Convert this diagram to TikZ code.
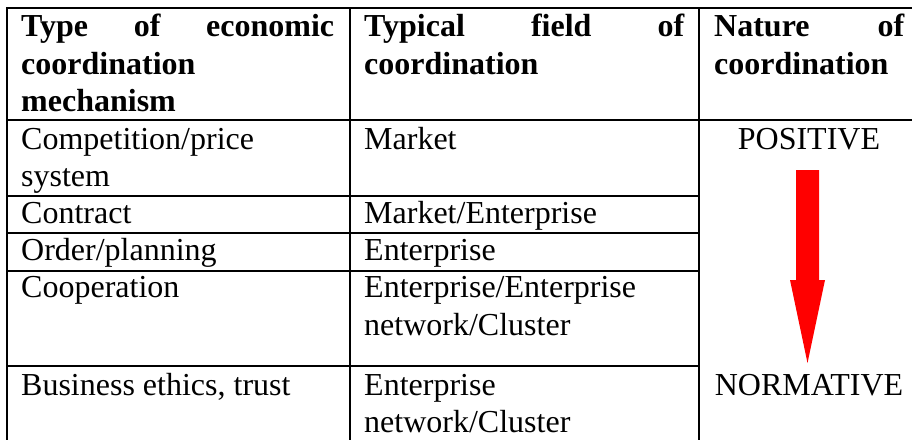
\documentclass[tikz,border=0pt]{standalone}
\usepackage{fontspec}
\setmainfont{Liberation Serif}
\tikzset{
  grid/.style={line width=2pt, line cap=rect, black},
  txt/.style={anchor=base west, inner sep=0pt, font=\fontsize{32}{37.5}\selectfont},
  hd/.style={anchor=base west, inner sep=0pt, font=\fontsize{32}{37.5}\selectfont\bfseries},
  ctr/.style={anchor=base, inner sep=0pt, font=\fontsize{32}{37.5}\selectfont},
  blockarrow/.style={fill=red, draw=none}
}
\begin{document}
\begin{tikzpicture}[x=1pt, y=-1pt]
\useasboundingbox (0,0) rectangle (912,439);
% grid lines
\draw[grid] (7,7.5) -- (912,7.5);
\draw[grid] (7,7.5) -- (7,439);
\draw[grid] (349.5,7.5) -- (349.5,439);
\draw[grid] (699,7.5) -- (699,439);
\draw[grid] (7,120) -- (912,120);
\draw[grid] (7,196) -- (699,196);
\draw[grid] (7,233) -- (699,233);
\draw[grid] (7,271) -- (699,271);
\draw[grid] (7,366) -- (699,366);
% header
\node[hd] (h1a) at (21,36.5) {\hbox to 313pt{Type\hfill of\hfill economic}};
\node[hd] (h1b) at (21,74) {coordination};
\node[hd] (h1c) at (21,111.5) {mechanism};
\node[hd] (h2a) at (364,36.5) {\hbox to 320pt{Typical\hfill field\hfill of}};
\node[hd] (h2b) at (364,74) {coordination};
\node[hd] (h3a) at (714,36.5) {\hbox to 190pt{Nature\hfill of}};
\node[hd] (h3b) at (714,74) {coordination};
% body
\node[txt] (r1a) at (21,149) {Competition/price};
\node[txt] (r1b) at (21,186.5) {system};
\node[txt] (r1c) at (364,149) {Market};
\node[ctr] (pos) at (809,149) {POSITIVE};
\node[txt] (r2a) at (21,223.5) {Contract};
\node[txt] (r2c) at (364,223.5) {Market/Enterprise};
\node[txt] (r3a) at (21,260) {Order/planning};
\node[txt] (r3c) at (364,260) {Enterprise};
\node[txt] (r4a) at (21,297) {Cooperation};
\node[txt] (r4c) at (364,297) {Enterprise/Enterprise};
\node[txt] (r4d) at (364,335) {network/Cluster};
\node[txt] (r5a) at (21,395) {Business ethics, trust};
\node[txt] (r5c) at (364,395) {Enterprise};
\node[txt] (r5d) at (364,432.5) {network/Cluster};
\node[ctr] (norm) at (809,395) {NORMATIVE};
% arrow
\fill[blockarrow] (796,170) -- (819,170) -- (819,280) -- (825,280) -- (807.5,363) -- (790,280) -- (796,280) -- cycle;
\end{tikzpicture}
\end{document}
